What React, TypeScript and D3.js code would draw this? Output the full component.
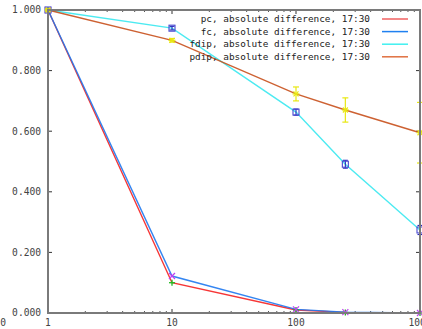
import React from "react";
import * as d3 from "d3";

const xs = [1, 10, 100, 250, 1000];
const pc = [1.0, 0.1, 0.01, 0.002, 0.0];
const fc = [1.0, 0.122, 0.012, 0.003, 0.0];
const fdip = [1.0, 0.94, 0.663, 0.491, 0.274];
const fdipErr = [0.003, 0.006, 0.01, 0.013, 0.015];
const pdip = [1.0, 0.9, 0.723, 0.67, 0.595];
const pdipErr = [0.003, 0.006, 0.023, 0.04, 0.1];
const legendLabels = [
  "pc, absolute difference, 17:30",
  "fc, absolute difference, 17:30",
  "fdip, absolute difference, 17:30",
  "pdip, absolute difference, 17:30",
];
const yTicks = [0, 0.2, 0.4, 0.6, 0.8, 1.0];
const xTicks = [1, 10, 100, 1000];

const W = 422, H = 329;
const L = 48, R = 420, T = 10, B = 313;
const FONT = "'DejaVu Sans Mono', monospace";

export default function App() {
  const x = d3.scaleLog().domain([1, 1000]).range([L, R]);
  const y = d3.scaleLinear().domain([0, 1]).range([B, T]);
  const line = d3.line<number>().x((_, i) => x(xs[i])).y((v) => y(v));
  const fmt = d3.format(".3f");
  const minor: number[] = [];
  for (let d = 1; d < 1000; d *= 10) for (let k = 2; k <= 9; k++) minor.push(d * k);

  const lineColors = ["#f52020", "#1e78f0", "#38e8f0", "#c8501c"];
  const legendColors = ["#f06060", "#2080f0", "#40f0f0", "#e07040"];
  const series = [pc, fc, fdip, pdip];
  const axisColor = "#7a7a7a";

  return (
    <svg width={W} height={H} style={{ position: "absolute", left: 0, top: 0, background: "#fff" }}>
      {yTicks.map((t) => (
        <g key={"y" + t}>
          <line x1={L} x2={L + 4} y1={y(t)} y2={y(t)} stroke="#333" strokeWidth={1} />
          <line x1={R - 4} x2={R} y1={y(t)} y2={y(t)} stroke="#333" strokeWidth={1} />
          <text x={41} y={y(t)} dy="0.35em" textAnchor="end" fontFamily={FONT} fontSize={9.6} fill="#444">
            {fmt(t)}
          </text>
        </g>
      ))}
      {xTicks.map((t) => (
        <g key={"x" + t}>
          <line x1={x(t)} x2={x(t)} y1={B} y2={B - 4} stroke="#333" strokeWidth={1} />
          <line x1={x(t)} x2={x(t)} y1={T} y2={T + 4} stroke="#333" strokeWidth={1} />
          <text x={x(t)} y={326} textAnchor="middle" fontFamily={FONT} fontSize={9.6} fill="#444">
            {t}
          </text>
        </g>
      ))}
      {minor.map((t) => (
        <g key={"m" + t}>
          <line x1={x(t)} x2={x(t)} y1={B} y2={B - 2} stroke="#555" strokeWidth={1} />
          <line x1={x(t)} x2={x(t)} y1={T} y2={T + 2} stroke="#555" strokeWidth={1} />
        </g>
      ))}
      <text x={6} y={326} textAnchor="end" fontFamily={FONT} fontSize={9.6} fill="#444">0</text>

      {/* lines */}
      {series.map((s, i) => (
        <path key={"l" + i} d={line(s) || ""} fill="none" stroke={lineColors[i]} strokeWidth={1.4} strokeOpacity={0.9} />
      ))}

      {/* pc markers: green plus */}
      {pc.map((v, i) => (
        <g key={"pcm" + i} stroke="#22bb22" strokeWidth={1.3}>
          <line x1={x(xs[i]) - 3} x2={x(xs[i]) + 3} y1={y(v)} y2={y(v)} />
          <line x1={x(xs[i])} x2={x(xs[i])} y1={y(v) - 3} y2={y(v) + 3} />
        </g>
      ))}
      {/* fc markers: purple x */}
      {fc.map((v, i) => (
        <g key={"fcm" + i} stroke="#c040f0" strokeWidth={1.2}>
          <line x1={x(xs[i]) - 3} x2={x(xs[i]) + 3} y1={y(v) - 3} y2={y(v) + 3} />
          <line x1={x(xs[i]) - 3} x2={x(xs[i]) + 3} y1={y(v) + 3} y2={y(v) - 3} />
        </g>
      ))}
      {/* fdip: blue squares with error bars */}
      {fdip.map((v, i) => {
        const cx = x(xs[i]);
        const y0 = y(v - fdipErr[i]);
        const y1 = y(v + fdipErr[i]);
        return (
          <g key={"fdm" + i} stroke="#2828b8" strokeWidth={1.1} fill="none">
            <line x1={cx} x2={cx} y1={y0} y2={y1} />
            <line x1={cx - 2.5} x2={cx + 2.5} y1={y0} y2={y0} />
            <line x1={cx - 2.5} x2={cx + 2.5} y1={y1} y2={y1} />
            <rect x={cx - 3} y={y(v) - 3} width={6} height={6} stroke="#4848d0" />
          </g>
        );
      })}
      {/* pdip: yellow stars with error bars */}
      {pdip.map((v, i) => {
        const cx = x(xs[i]);
        const cy = y(v);
        const y0 = y(v - pdipErr[i]);
        const y1 = y(v + pdipErr[i]);
        return (
          <g key={"pdm" + i} stroke="#e8e810" strokeWidth={1.2} fill="none">
            <line x1={cx} x2={cx} y1={y0} y2={y1} />
            <line x1={cx - 3} x2={cx + 3} y1={y0} y2={y0} />
            <line x1={cx - 3} x2={cx + 3} y1={y1} y2={y1} />
            <line x1={cx - 3.5} x2={cx + 3.5} y1={cy} y2={cy} />
            <line x1={cx - 2.5} x2={cx + 2.5} y1={cy - 2.5} y2={cy + 2.5} />
            <line x1={cx - 2.5} x2={cx + 2.5} y1={cy + 2.5} y2={cy - 2.5} />
          </g>
        );
      })}

      {/* axes frame drawn over the marks */}
      <rect x={L} y={T} width={R - L} height={B - T} fill="none" stroke={axisColor} strokeWidth={2} />

      {/* legend */}
      {legendLabels.map((lab, i) => {
        const ly = 19 + i * 12.6;
        return (
          <g key={"lg" + i}>
            <text x={370} y={ly} dy="0.35em" textAnchor="end" fontFamily={FONT} fontSize={9.4} fill="#222">
              {lab}
            </text>
            <line x1={382} x2={408} y1={ly} y2={ly} stroke={legendColors[i]} strokeWidth={1.5} />
          </g>
        );
      })}
    </svg>
  );
}
